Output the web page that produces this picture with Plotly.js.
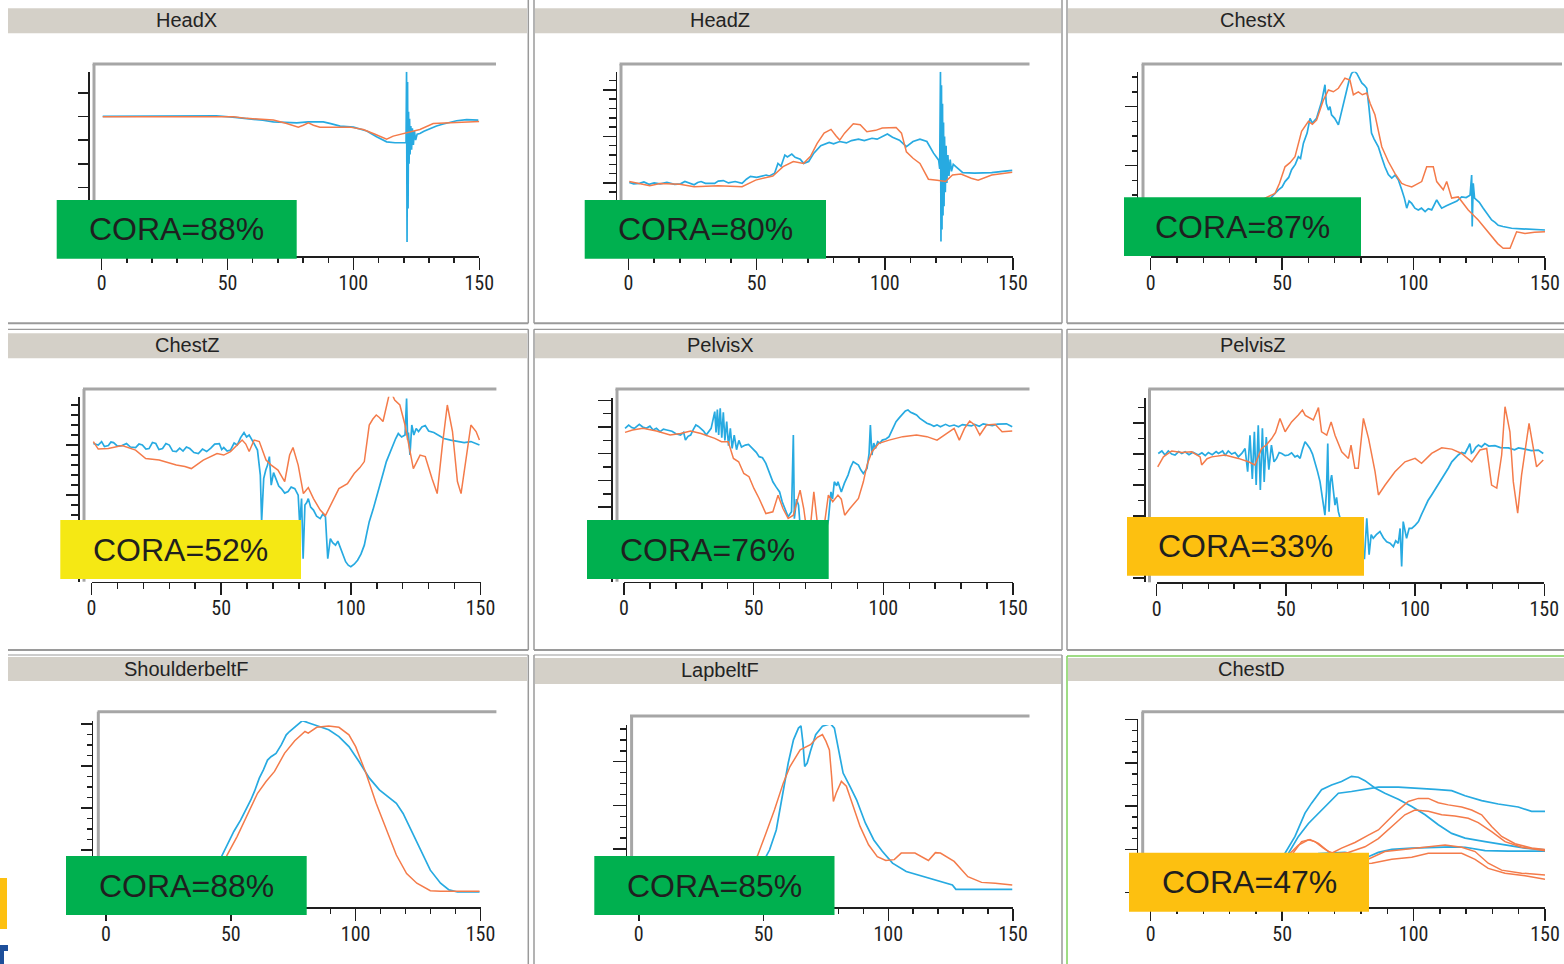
<!DOCTYPE html>
<html>
<head>
<meta charset="utf-8">
<script src="https://cdn.plot.ly/plotly-3.0.1.min.js"></script>
<style>html,body{margin:0;padding:0;background:#fff;}#chart{width:1564px;height:964px;}</style>
</head>
<body>
<div id="chart"></div>
<script>
// ---------------- DATA (time in ms, values in panel units) ----------------
const panelTitles = ['HeadX','HeadZ','ChestX','ChestZ','PelvisX','PelvisZ','ShoulderbeltF','LapbeltF','ChestD'];
const coraScores = [88, 80, 87, 52, 76, 33, 88, 85, 47];
const xTickLabels = ['0','50','100','150'];

const headX_test = [[0.4,0],[20,0],[41.7,0],[42.5,0.3],[44,0],[45.5,0.3],[53,-0.4],[56,-0.7],[61.6,-1.3],[64,-1.6],[68.2,-2.3],[72,-2.5],[77.5,-2.7],[82,-2.3],[88,-2.3],[91,-3],[94.7,-4.1],[100,-4.5],[105.3,-6.1],[109.2,-8.6],[113.2,-10.7],[116.5,-11.1],[120.9,-11.1],[121.1,18.9],[121.3,-53],[121.5,14.6],[121.7,-38.9],[121.9,2],[122.1,-20],[122.3,-1],[122.5,-16],[122.8,-4],[123.1,-14],[123.4,-5],[123.8,-12],[124.2,-6],[124.7,-10],[125.3,-7.5],[126.4,-7.2],[128,-6.2],[130.4,-5.1],[133,-4],[135.7,-3.2],[141,-1.8],[145,-1.3],[149.6,-1.5]];
const headX_model = [[0.4,-0.1],[52.3,-0.1],[57.6,-0.8],[68.2,-1.5],[73.5,-3],[78.1,-4.5],[80.1,-3.7],[82.1,-2.7],[84.1,-3.7],[86.7,-4.5],[98.6,-4.5],[103.9,-5.5],[108.6,-7.5],[111.2,-8.6],[113.2,-9.6],[115.8,-8.3],[121.1,-6.9],[126.4,-5.5],[131.7,-3],[139.7,-2.7],[150,-2.1]];

const headZ_test = [[0.3,0.1],[2,-0.2],[4.3,-0.1],[6,0.2],[8,-0.3],[10,0],[12.3,-0.2],[15,0.1],[18,-0.3],[20.3,-0.2],[22,0.3],[25.6,-0.4],[27,0.1],[28.3,0.3],[30,-0.1],[33.6,-0.1],[35,0.4],[37,0.5],[39,0],[41.6,0.3],[44.3,-0.1],[46,0.8],[47.6,1.4],[50,1.2],[53.7,1.7],[55,1.5],[57,2.1],[58.3,4.2],[59.5,3.6],[61,6],[62,5.6],[63.7,6.2],[65,5.5],[67,5.1],[68.3,4.2],[70.3,4.6],[72.3,6.4],[75,8],[78.3,8.7],[80,8.4],[82.4,8.9],[85,8.6],[87,9.1],[89.7,9.4],[92,9.1],[95,9.6],[97,9.4],[99,10],[101,10.5],[103,9.8],[105.7,9.2],[108.4,7.8],[111,8.9],[113.7,9.4],[116.4,8.9],[119,6.4],[121,4.9],[121.4,3],[121.7,23.9],[121.9,-12.6],[122.1,21],[122.3,-10],[122.5,17],[122.7,-7],[122.9,13],[123.1,-5],[123.3,10],[123.6,-2],[123.9,8],[124.2,0],[124.6,6],[125,1.5],[125.5,5],[126,2.5],[126.7,4],[127.7,3.5],[130.4,2.2],[135,2.1],[141.7,2.2],[146,2.5],[149.7,2.7]];
const headZ_model = [[0.3,0.3],[8.3,-0.6],[12.3,-0.1],[20,-0.3],[25.6,-0.8],[35,-0.6],[44.3,-0.8],[49.6,0.6],[56.3,1.5],[60.3,3.5],[64.3,4.6],[68.3,4.2],[71,5.7],[73.6,8.5],[76.3,10.7],[79,11.5],[81,10.1],[82.4,9.2],[84.3,10.7],[87.7,12.7],[90.4,12.5],[93,11],[96.4,11.3],[99,11.8],[104.4,11.9],[106.5,10.7],[108.4,6.7],[111,5.3],[113.7,4.2],[117,0.8],[120.4,0.6],[123.7,0.3],[126.4,1.7],[129.7,1.9],[133.7,1],[136.4,0.6],[141.7,1.7],[149.7,2.3]];

const chestX_test = [[0,-7],[20,-7],[40,-7],[44,-6.5],[46,-5.3],[48.6,-4.1],[50,-3.6],[51.1,-2.7],[52.5,-2],[53.6,-0.7],[55,0.2],[56.2,1.5],[57,1.2],[58.1,3.8],[59.5,5.5],[60.6,8],[61.5,7.2],[63.1,8],[64,9.5],[65,10.8],[66.3,13.7],[66.8,10.5],[67.6,9.4],[68.2,10],[68.8,8.6],[70,8],[71.4,6.9],[72.7,9.4],[73.5,11],[74.6,13.1],[75.5,14.5],[76.4,15.6],[77.4,16],[78.4,15.6],[79.4,14.8],[80.3,14],[81.3,13.6],[82.2,13.1],[83,10],[84,5.5],[85,4.5],[86.6,3.2],[87.8,1.5],[89.1,-0.2],[90.4,-1.5],[91.7,-2.1],[93,-1.6],[94.2,-2.4],[95.5,-4.1],[96.5,-5.5],[97.4,-7.2],[98.3,-6],[99.3,-6.4],[100.5,-7.2],[101.8,-7.5],[103,-7.2],[104.4,-7.8],[105.6,-7.3],[106.9,-7.5],[108.8,-5.8],[109.7,-6.5],[110.7,-7.2],[112.5,-6.8],[114.5,-6.4],[116.5,-6],[118.3,-5.3],[120,-5.4],[121.5,-5],[121.8,-1.9],[122.1,-1.6],[122.3,-10.3],[122.7,-3],[123.2,-5.5],[124,-5.8],[125,-6.2],[126.5,-7.2],[128,-8.2],[129.7,-9.2],[131,-9.6],[132.2,-10.1],[134,-10.3],[137.3,-10.6],[141,-10.7],[144.9,-10.8],[150,-10.9]];
const chestX_model = [[0,-8],[20,-8],[40,-7.5],[43.5,-5.5],[47.3,-4.7],[49,-3],[51.1,-0.2],[53,0.5],[54.9,1.5],[56,3.5],[57.4,5.8],[60,7.5],[61.5,7],[63.1,7.7],[64.5,9.5],[65.7,11.1],[67.6,12.8],[69.5,12.5],[71.4,13.1],[72.6,14],[73.9,14.8],[75.8,14.5],[77.1,12],[79,12.5],[80.5,12],[82.2,12.3],[83.5,10.5],[85.3,8.6],[86.5,6],[87.9,3.2],[90.4,0.7],[92.9,-1.3],[95.5,-3],[97,-3.3],[99.3,-3.6],[101,-3.2],[103.1,-2.7],[105,-0.2],[107.5,-0.2],[108.8,-2.7],[111.3,-4.1],[112.6,-2.7],[114.5,-5.5],[117,-5.3],[120.8,-7.5],[124.6,-9.2],[127,-10.5],[129.7,-12],[132,-13.2],[134.1,-14],[136.7,-14],[139.2,-11.2],[142.4,-11.5],[146,-11.3],[150,-11.2]];

const chestZ_test = [[0.7,0.3],[2.6,0],[3.9,0.7],[5,-0.3],[6.5,-0.1],[7.5,0.6],[8.5,0.5],[10,-0.2],[11.8,-0.1],[13.5,0.3],[15,-0.4],[17,-0.5],[18.3,0.2],[19.6,0],[21,-0.8],[22.2,-0.7],[23.5,0.5],[24.8,0.3],[26,-0.9],[27.4,-0.7],[28.7,0.3],[30,0],[31.3,-1.2],[32.7,-1.3],[34,-0.6],[35.3,-1.2],[36.6,-0.4],[37.9,-0.7],[39.5,-1.5],[41.2,-1.7],[42.8,-0.8],[44.4,-1.3],[46,-0.6],[47.5,0.2],[49.3,0.3],[50.2,-0.9],[51,-0.5],[52.3,-1.2],[53.6,-1],[55,0.4],[56.2,0],[57.5,1.5],[58.8,2.5],[59.8,1.6],[60.8,2],[61.8,1.2],[62.7,0.3],[64,-1],[65.1,-6],[65.6,-15.3],[66.4,-6.7],[67.2,-5],[67.9,-4],[68.6,-2.3],[69.3,-8],[70.2,-5.5],[71.2,-6.7],[72.2,-8.2],[73.2,-8.7],[74.5,-9.6],[75.8,-9.3],[77,-8.4],[78.4,-8.7],[79.7,-10],[80.3,-16],[81,-10.7],[81.6,-22.7],[82.3,-12],[83,-11.5],[83.6,-10.7],[84.5,-12.4],[85.6,-13],[86.8,-14.2],[88.2,-14.7],[89.2,-13.8],[90.2,-14.3],[91.1,-22.7],[92.1,-18.7],[93,-19.5],[94.1,-20],[95,-19.2],[96,-20.7],[97,-21.8],[98,-23.3],[99,-24],[100,-24.3],[101.3,-23.8],[102.6,-23],[103.9,-21.8],[105.2,-20],[106.2,-17.5],[107.1,-15.3],[108.5,-13],[109.8,-10.7],[110.8,-9],[111.7,-7.3],[112.7,-5.2],[113.7,-3.3],[115,-1.5],[116.3,0],[117.3,1.3],[118.3,2.3],[119.6,1.6],[120.9,2],[121.5,9.3],[121.9,1],[122.2,2.5],[122.8,-2],[123.5,4],[124.3,2],[125.2,3.3],[126.1,2.7],[127.4,3.6],[128.7,3.9],[130,2.8],[132,2.5],[134,1.8],[135.9,1.3],[138.5,1],[141.1,0.8],[143.7,0.5],[146.3,0.7],[148,0.3],[149.6,0]];
const chestZ_model = [[0.7,0.7],[2.6,-0.8],[6.5,-0.7],[11.8,-0.1],[17,-1],[20.9,-2.7],[26.1,-3],[32.7,-4],[36,-4.3],[38.5,-4.7],[43.1,-3],[48.4,-1.7],[51,-2],[53.6,-1.3],[58.1,1],[59.5,0.2],[60.8,-1.3],[62.7,1],[64.7,0.7],[67.3,-3],[69.3,-4],[71.9,-5],[74.5,-7.3],[76.4,-2],[77.7,-0.5],[79.7,-4],[81.7,-9.7],[83.6,-8.5],[85.6,-10.7],[88.2,-13],[90.2,-14.1],[92.8,-11.3],[95.4,-8.7],[98.7,-7.7],[101.3,-5.7],[103.5,-4.5],[105.2,-3.3],[107.1,4],[108.5,5.2],[109.8,6],[111,5.5],[112.4,4.7],[114.3,9.3],[115.2,11],[116.9,9],[118.9,8],[120.9,4],[122.8,-1.3],[124.1,-4.7],[126.7,-2],[128.7,-2.3],[131.3,-6.7],[133.3,-9.7],[135.3,0],[137.2,8],[139.2,2.7],[141.1,-7.3],[142.5,-9.7],[144.4,-2.7],[146.3,4],[148.3,2.7],[149.6,1]];

const pelvisX_test = [[0.4,-0.5],[1.8,0.75],[3,-0.2],[4,-0.5],[5.9,1],[7.2,0],[8.6,-0.5],[10,0.3],[11.2,-1.1],[12.5,-0.5],[13.9,-1.75],[15.2,-0.8],[16.5,-1.1],[18.5,-1.6],[20,-2.5],[21.8,-3],[23,-2],[23.7,-4.9],[24.7,-3.5],[25.7,-3],[26.7,-1],[27.7,0.75],[28.7,0.2],[29.7,-0.5],[30.7,-1.5],[31.7,-3],[32.7,-1.5],[33.6,-0.5],[35,5.75],[35.5,-2],[36,6.5],[36.5,-3],[37.1,7],[37.7,-4],[38.3,5.5],[38.9,-5],[39.6,2],[40.3,-7],[41,-0.5],[41.7,-8],[42.5,-3],[43.4,-8.5],[44.3,-5],[45.3,-7.5],[46.8,-6.75],[48,-6.5],[49.5,-8],[51,-9.5],[52.1,-11.1],[53.4,-11.5],[54.7,-13.6],[56,-17],[57.4,-20.5],[58.7,-22.5],[60,-24.3],[61,-28],[62,-30.5],[63.3,-33.6],[64.6,-31.75],[65,-20],[65.3,-3],[65.7,-34.3],[66.5,-27],[67.3,-29.3],[67.9,-36.75],[69.3,-41.75],[71,-43],[73.2,-44],[75,-43],[77.2,-41.75],[78.8,-34.9],[79.8,-24.3],[80.4,-27],[81.1,-20.5],[82,-22],[82.5,-20.5],[83.8,-24.3],[85,-21],[86.4,-18],[87.4,-15],[88.4,-13],[89.4,-13.5],[90.4,-14.25],[91.3,-16],[92.3,-17.4],[93.7,-15.5],[94.5,-10],[95,0.75],[95.6,-10.5],[96.3,-6],[96.97,-8],[97.8,-5.5],[98.7,-6],[99.6,-4.9],[101,-4.5],[102.2,-3.6],[103.5,-1],[104.9,2],[106.2,3.5],[107.5,5.1],[108.5,6],[109.5,6.4],[110.5,5.5],[111.5,5.1],[112.8,4.5],[114.1,3.25],[115.4,2.3],[116.8,1.4],[118,1],[119.5,0.3],[120.7,0.8],[122,0.1],[124,1],[125.5,0.3],[127.3,0.75],[129,0.1],[130.5,0.9],[132.6,0.75],[134,0.4],[135.2,1],[137,0.3],[138.5,1.2],[140.5,0.75],[142,0.5],[144,1.1],[145.8,1.25],[147.5,1.2],[149.7,0.1]];
const pelvisX_model = [[0.4,-2],[3.3,-1.1],[7.3,-0.5],[12.5,-1.5],[17.8,-3],[21.8,-2.4],[25.7,-1.5],[29.7,-2.4],[35,-4.25],[37.6,-5.5],[40.2,-5.5],[42.2,-11.75],[44.2,-13],[46.2,-17.4],[48.2,-18.6],[50.1,-23],[52.1,-26.75],[54.7,-32.4],[57.4,-31.75],[59.4,-25.5],[61.3,-30.5],[63.3,-34.25],[65.3,-33],[67.9,-23.6],[69.3,-30.5],[71.2,-44],[73.2,-24.25],[74.5,-35.5],[76.5,-42],[78.8,-25.5],[80.5,-28],[82.5,-25.5],[83.8,-27],[85.1,-33],[87.1,-30.5],[90.4,-26.75],[92.3,-20.5],[93.7,-14.25],[95.6,-9.25],[98.3,-6.1],[102.2,-4.9],[107.5,-3.6],[112.8,-3],[116.8,-3.6],[120.7,-4.9],[124.7,-2.4],[127.3,-0.5],[129.3,-4.9],[131.3,-0.5],[133.3,2.25],[135.2,0.75],[137.2,-3],[139.8,0.75],[143.1,1],[145.8,-1.75],[149.7,-1.5]];

const pelvisZ_test = [[0.6,0.2],[2,1],[3.2,-0.3],[4.5,1],[5.8,0],[7.1,-0.3],[8.5,0.8],[9.7,0.2],[11,0.75],[12.5,-0.2],[14,0.6],[16.1,-0.3],[17.5,0.4],[18.8,-0.5],[20,0.5],[21.5,-0.2],[23,0.8],[23.9,0.2],[25.5,1],[26.5,-0.4],[27.7,1],[29,0],[30.3,0.5],[31.6,-0.9],[33,0.3],[34.2,1.8],[35.2,-5.7],[36.1,6.1],[37,-8],[37.8,7.2],[38.5,-10],[39.3,9.3],[40.1,-11.6],[40.9,8.3],[41.6,-9],[42.4,5.5],[43.4,-5],[44.4,2.9],[45.4,-2.5],[46.4,-1.4],[47.4,0.5],[48.4,0.2],[49.7,-0.5],[51,-0.3],[52.2,0.4],[53.5,-0.9],[54.5,-0.5],[55.5,-1.4],[56.4,1.5],[57.4,4],[58.3,3],[59.3,1.8],[60.3,0],[61.3,-2.5],[62.2,-5.5],[63.2,-8.9],[64.1,-14.3],[65.1,-19.7],[65.7,-12],[66.2,3.4],[66.7,-18.6],[67.2,-9],[67.7,-6.8],[68.3,-12],[69,-16.5],[69.6,-14],[70.3,-18.6],[71,-20.75],[72.5,-28],[74.2,-31.5],[76,-33],[78,-33.7],[80.4,-33.7],[81.3,-20.75],[82.2,-32.5],[83,-26],[83.8,-27.2],[85,-26],[86.4,-25],[87.7,-27],[89,-28.3],[90.3,-28.8],[91.6,-29.9],[92.5,-28],[93.5,-28.8],[94.2,-24],[94.8,-36.3],[95.4,-21.8],[96,-25],[96.7,-27.2],[97.7,-24],[98.7,-24],[100,-23],[101.3,-21.8],[102.5,-19.5],[103.8,-17],[105,-15],[106.4,-13.2],[107.7,-11.5],[109,-9.5],[110.3,-8],[111.6,-6.2],[112.9,-4.5],[114.2,-2.5],[115.5,-1.2],[116.7,-0.3],[118,0.5],[119.3,0.2],[120.3,1.8],[121.2,3.4],[121.8,0.3],[122.5,0.75],[123.5,2.2],[124.5,2.9],[125.7,2.3],[127,3.4],[128.5,2.6],[130.9,2.7],[133,2.1],[136.1,2],[138.5,1.4],[140,2],[142.5,1.6],[145,1.1],[147.7,1.3],[149.6,0.2]];
const pelvisZ_model = [[0.4,-4.1],[2.6,-0.9],[5.8,1],[9.7,0.5],[13.5,0.75],[16.8,-0.9],[17.4,-3.5],[19.5,-1.5],[21.3,-0.9],[26.4,-0.3],[31.6,-1.4],[35.5,-2.5],[38,-3.5],[40.6,1.8],[42.5,3],[44.5,5],[46,7],[47.7,11.5],[49.7,7.2],[51,9],[52.2,10.4],[54.8,12.6],[56.4,14.2],[57.5,12.5],[58.7,12],[60.6,11],[62.6,15],[63.8,7.2],[65.8,6.1],[67.5,10.4],[69,6.1],[71.6,0.75],[74.2,-1.4],[75.2,2.9],[76.7,-4.6],[78,-4.6],[80,11.5],[82,5],[84.5,-5.7],[85.8,-13.2],[88.4,-10],[92.2,-5.7],[96.1,-2.5],[100,-1.4],[102.5,-3],[106.4,0.2],[110.3,2],[114.2,1.6],[118,0.2],[121.9,-2.5],[125.1,1.3],[127.7,1.8],[129.6,-10],[131.6,-11],[133.5,-0.3],[134.8,15.3],[136.7,7.2],[138,-8.9],[139.7,-19.1],[141.2,-6.8],[144.1,9.9],[145.7,1.8],[147,-4.1],[149.6,-1.9]];

const shoulder_test = [[0,0],[30,0],[37.6,0],[41.7,2.9],[46.4,8.6],[48.5,10.8],[51.2,14.4],[53.9,17.1],[56,19.5],[58,21.9],[59.5,24],[61.4,27.1],[63,29],[64.7,31.4],[66.1,32.2],[68.1,33],[70.2,35],[72.2,37.4],[73.5,38.2],[75,39],[77,40],[78.7,40.8],[81,40.3],[85.1,39.5],[89.2,38.6],[93.3,37],[97.3,34.6],[101.4,31],[105.5,27.1],[109.5,24.3],[113.6,22.3],[116.3,21.1],[119,18.7],[121.8,15.2],[125.8,10],[129.9,5.2],[134,2.1],[137.4,0.5],[140.8,0],[149.6,0]];
const shoulder_model = [[0,0.2],[30,0.2],[39,0.2],[44.4,2.9],[48.5,8.8],[52.5,13.2],[56.6,18.3],[60.7,23.5],[64.1,26.3],[67.5,28.7],[71.5,33],[75.6,36],[79.7,38.2],[81,37.8],[84.4,39.2],[89.2,39.5],[93.3,39.2],[97.3,37.4],[100,34.6],[104.1,28.3],[108.2,21.1],[112.3,14.8],[116.3,8.8],[120.4,4.4],[124.5,2.1],[129.9,0.3],[134,0.2],[149.6,0.2]];

const lapbelt_test = [[0,0],[38.7,0],[43,1],[46.9,3],[49.6,6.8],[52.4,9.8],[55.1,14.4],[57.9,22.8],[59.9,29.7],[62,35],[64,37.7],[65,38.2],[65.8,34.3],[66.5,28.9],[67.5,29.7],[68.8,32.4],[70.9,36.2],[73.6,38.1],[76.8,38.7],[78.4,37.7],[79.8,33.5],[81.9,27.4],[84.6,24.4],[87.3,21.3],[90.8,16],[94.2,12.1],[97.6,9.5],[101.7,6.8],[107.2,4.9],[114.1,3.7],[120.9,2.6],[125.7,1.8],[127.1,0.8],[149.7,0.8]];
const lapbelt_model = [[0,0],[36,0],[40,2.2],[44,5.5],[47.6,8.5],[51,13.7],[54.4,19],[57.9,25.1],[60.6,28.9],[64.7,32.7],[68.8,33.9],[71.6,35.6],[73.6,36.2],[75,34.7],[76.4,32.7],[77.3,26.6],[78,20.9],[79.1,22.8],[81.2,25.5],[83.2,24.4],[85.9,19.8],[88.7,15.2],[92.1,11],[95.6,8.3],[99,7.4],[102.4,7.6],[105.2,9.1],[110.7,9.1],[116.1,7.4],[118.9,9.2],[120.9,9.1],[126.4,7.2],[131.9,3.7],[137.4,2.4],[142.9,2.2],[149.7,1.8]];

const chestD_test1 = [[0,0],[43.5,0],[51.1,9.1],[54.9,13],[58.7,18.4],[61.2,20.7],[65,23.8],[68.8,24.9],[72.6,25.7],[76.4,26.9],[79,26.7],[81.5,25.9],[85.3,24.2],[89.1,23],[94.2,21.6],[99.3,19.9],[104.4,18],[109.4,15.7],[114.5,13.7],[119.6,12.6],[127.2,11.8],[134.8,11],[142.4,10.3],[150,9.9]];
const chestD_test2 = [[0,0],[43.5,0],[52.4,9.1],[56.2,13],[60,16],[63.8,18.4],[67.6,20.7],[71.4,23],[76.4,23.4],[81.5,23.9],[86.6,24.4],[94.2,24.4],[101.8,24.2],[108.2,23.9],[114.5,23.6],[119.6,22.4],[125.9,21.3],[132.2,20.5],[139.8,19.8],[144.9,18.8],[150,18.8]];
const chestD_test3 = [[0,0],[48.6,0],[56.2,6.8],[63.8,9],[73.9,9.3],[82.8,8.3],[86.6,9.3],[91.7,10],[99.3,10.3],[106.9,10.5],[114.5,10.6],[119.6,10.5],[127.2,9.7],[136,9.6],[150,9.6]];
const chestD_model1 = [[0,0],[43.5,0],[52.4,8.7],[56.2,11],[60,12.2],[62.5,11.8],[65.7,10.3],[68.8,9.1],[72.6,10.3],[77.7,11.6],[82.8,13.3],[86.6,14.5],[90.4,16.8],[94.2,19.1],[98,21.1],[101.8,21.8],[105.6,21.8],[109.4,20.8],[113.2,20.3],[118.3,19.8],[122.1,19.1],[125.9,18],[129.7,15.3],[133.5,13],[138.6,11.3],[144.9,10.3],[150,10]];
const chestD_model2 = [[0,0],[44.8,0],[53.6,8.7],[57.4,11.8],[60.6,12.3],[63.8,11.4],[67.6,9.5],[70.1,9],[75.2,9.3],[81.5,10.6],[86.6,12.5],[91.7,15.3],[96.7,18],[100.5,19.1],[105.6,18.8],[110.7,18],[115.7,17.7],[120.8,17.2],[124.6,16.2],[129.7,14.1],[134.8,11.8],[141.1,10.5],[150,9.7]];
const chestD_model3 = [[0,0],[48.6,0],[56.2,5.2],[63.8,6.8],[72.6,8.3],[81.5,7.4],[89.1,9.5],[96.7,10],[104.4,10.6],[112,11],[118.3,10.5],[123.4,9.5],[128.4,6.8],[133.5,5.2],[141.1,4.5],[150,4.1]];
const chestD_model4 = [[0,0],[49.8,0],[58.7,4.5],[66.3,6],[75.2,6.6],[84.1,6.8],[91.7,7.7],[99.3,8.2],[105.6,9.1],[113.2,9.1],[118.3,9.1],[123.4,7.7],[128.4,5.6],[134.8,4.5],[142.4,3.9],[150,3.1]];

const testSeries  = [[headX_test],[headZ_test],[chestX_test],[chestZ_test],[pelvisX_test],[pelvisZ_test],[shoulder_test],[lapbelt_test],[chestD_test1,chestD_test2,chestD_test3]];
const modelSeries = [[headX_model],[headZ_model],[chestX_model],[chestZ_model],[pelvisX_model],[pelvisZ_model],[shoulder_model],[lapbelt_model],[chestD_model1,chestD_model2,chestD_model3,chestD_model4]];

// ---------------- LAYOUT / STYLE (pixel geometry) ----------------
const W = 1564, H = 964;
const BLUE = '#27aae1', ORANGE = '#f47b4a';
const GREEN = '#00b04f', YELLOW = '#f5e814', AMBER = '#fdc010';
const FONT_T = 'Arial, "Liberation Sans", sans-serif';
const FONT_N = '"Liberation Sans Narrow", "Arial Narrow", "Roboto Condensed", "Liberation Sans", Arial, sans-serif';

const geom = [
 {xa0:101.7, xa1:479.3, xy:256,   yTop:71.7,  yx:88.3,   yr:[-58.9,18.9], mn:0,   ml:10,   nl:0,   fr:[92.7,496,64,94],      box:[56.7,200,296.7,258.7], bc:GREEN,  tt:[186.7,19.5],  bar:[8,8.3,527,33.3]},
 {xa0:628.5, xa1:1013,  xy:256,   yTop:71.7,  yx:615.5,  yr:[-15.7,23.9], mn:2,   ml:13,   nl:7,   fr:[619.6,1029.5,64,621], box:[584.7,200,826,258.7],  bc:GREEN,  tt:[719.9,19.5],  bar:[535,8.3,1061,33.3]},
 {xa0:1150.7,xa1:1545,  xy:256,   yTop:71.7,  yx:1136.7, yr:[-15.3,15.9], mn:2.5, ml:11.7, nl:5,   fr:[1141.7,1562,64,1143], box:[1124,197.3,1361,256],  bc:GREEN,  tt:[1252.5,19.5], bar:[1068,8.3,1564,33.3]},
 {xa0:91.5,  xa1:480.5, xy:581.7, yTop:396.7, yx:78,     yr:[-27.3,9.66], mn:2,   ml:12,   nl:7,   fr:[83,496.4,389,84],     box:[60.3,520,301,579],     bc:YELLOW, tt:[187.2,344.5], bar:[8,333.3,527,358.3]},
 {xa0:624,   xa1:1013,  xy:581.7, yTop:398.3, yx:611,    yr:[-57.9,10.75],mn:5,   ml:12.7, nl:8,   fr:[615.5,1029.5,389,617],box:[587,520,828.7,579],    bc:GREEN,  tt:[720.7,344.5], bar:[535,333.3,1061,358.3]},
 {xa0:1156.7,xa1:1544.3,xy:582.3, yTop:397.7, yx:1144,   yr:[-41.4,18.2], mn:5,   ml:10.7, nl:6.3, fr:[1148.3,1564,389,1149.5],box:[1127,517,1364,575.7], bc:AMBER,  tt:[1252.5,344.5],bar:[1068,333.3,1564,358.3]},
 {xa0:106,   xa1:480.5, xy:907.3, yTop:721,   yx:91.5,   yr:[-3.64,40.7], mn:2.5, ml:10.8, nl:5,   fr:[97.6,496.4,711.7,98.3],box:[66,856,306.7,915],     bc:GREEN,  tt:[186.4,668.5], bar:[8,657,527,681]},
 {xa0:638.8, xa1:1013,  xy:907.3, yTop:725,   yx:625.8,  yr:[-3.3,38.4],  mn:2.5, ml:12.7, nl:6,   fr:[630,1029.5,716,631.6],box:[594.3,856,834.5,915],  bc:GREEN,  tt:[720,670],   bar:[535,658,1061,684]},
 {xa0:1150.7,xa1:1545,  xy:907.3, yTop:719.3, yx:1136.7, yr:[-3.4,40.1],  mn:2.5, ml:11.7, nl:5,   fr:[1141.7,1564,711.7,1142.7],box:[1129,852.7,1369,911.7],bc:AMBER, tt:[1251.7,668.5],bar:[1068,658,1564,681]}
];

const px = x => x / W;
const py = y => 1 - y / H;

const traces = [];
const shapes = [];
const annotations = [];
const layout = {
  width: W, height: H,
  margin: {l:0, r:0, t:0, b:0, pad:0},
  paper_bgcolor: '#ffffff', plot_bgcolor: 'rgba(0,0,0,0)',
  showlegend: false, hovermode: false
};

function line(x0,y0,x1,y1,color,width,layer){
  shapes.push({type:'line', xref:'paper', yref:'paper', x0:px(x0), y0:py(y0), x1:px(x1), y1:py(y1),
    line:{color:color, width:width}, layer: layer || 'below'});
}
function rect(x0,y0,x1,y1,fill,layer){
  shapes.push({type:'rect', xref:'paper', yref:'paper', x0:px(x0), y0:py(y0), x1:px(x1), y1:py(y1),
    fillcolor:fill, line:{width:0}, layer: layer || 'below'});
}

// panel borders
const BORDER = '#9a9a9a';
line(8,323.3,528.3,323.3,BORDER,2); line(534,323.3,1062,323.3,BORDER,2); line(1067,323.3,1564,323.3,BORDER,2);
line(8,329.3,528.3,329.3,BORDER,1.2); line(534,329.3,1062,329.3,BORDER,1.2); line(1067,329.3,1564,329.3,BORDER,1.2);
line(8,650,528.3,650,BORDER,2); line(534,650,1062,650,BORDER,2); line(1067,650,1564,650,BORDER,2);
line(8,655,528.3,655,BORDER,1.2); line(534,655,1062,655,BORDER,1.2);
[[0,323.3],[329.3,650],[655,964]].forEach(([a,b])=>{
  line(528.3,a,528.3,b,BORDER,1.5);
  line(534,a,534,b,BORDER,1.5);
  line(1062,a,1062,b,BORDER,1.5);
});
line(1067,0,1067,323.3,BORDER,1.5); line(1067,329.3,1067,650,BORDER,1.5);
// selected panel (ChestD) green border
line(1067,656,1564,656,'#7fd15c',1.5); line(1067,656,1067,964,'#7fd15c',1.5);

geom.forEach((g, i) => {
  const n = i + 1;
  const xk = n === 1 ? 'xaxis' : 'xaxis' + n;
  const yk = n === 1 ? 'yaxis' : 'yaxis' + n;
  const xr = n === 1 ? 'x' : 'x' + n;
  const yrf = n === 1 ? 'y' : 'y' + n;

  layout[xk] = {
    domain:[px(g.xa0), px(g.xa1)], range:[0,150], anchor:'free', position: py(g.xy),
    showline:true, linecolor:'#1e1e1e', linewidth:1.5, mirror:false,
    ticks:'outside', ticklen:12, tickwidth:1.5, tickcolor:'#1e1e1e',
    tickmode:'array', tickvals:[0,50,100,150], ticktext:xTickLabels,
    ticklabelstandoff:-4,
    tickfont:{family:FONT_N, size:20, color:'#1e1e1e'},
    minor:{tickmode:'linear', tick0:0, dtick:10, ticks:'outside', ticklen:5.5, tickwidth:1.5, tickcolor:'#1e1e1e', showgrid:false},
    showgrid:false, zeroline:false, fixedrange:true
  };
  const yax = {
    domain:[py(g.xy), py(g.yTop)], range:g.yr, anchor:'free', position: px(g.yx), side:'left',
    showline:true, linecolor:'#1e1e1e', linewidth:1.5,
    ticks:'outside', ticklen:g.ml, tickwidth:1.5, tickcolor:'#1e1e1e',
    tick0:0, dtick:10, showticklabels:false,
    showgrid:false, zeroline:false, fixedrange:true
  };
  if (g.mn) yax.minor = {tick0:0, dtick:g.mn, ticks:'outside', ticklen:g.nl, tickwidth:1.5, tickcolor:'#1e1e1e', showgrid:false};
  layout[yk] = yax;

  // title bar
  rect(g.bar[0], g.bar[1], g.bar[2], g.bar[3], '#d4d0c8');
  annotations.push({xref:'paper', yref:'paper', x:px(g.tt[0]), y:py(g.tt[1]), text:panelTitles[i],
    showarrow:false, xanchor:'center', yanchor:'middle', font:{family:FONT_T, size:20, color:'#232323'}});

  // grey frame (top + left)
  line(g.fr[0], g.fr[2], g.fr[1], g.fr[2], '#a6a6a6', 3);
  line(g.fr[3], g.fr[2], g.fr[3], g.xy, '#a6a6a6', 3);

  // data
  testSeries[i].forEach(s => traces.push({type:'scatter', mode:'lines', xaxis:xr, yaxis:yrf,
    x:s.map(p=>p[0]), y:s.map(p=>p[1]), line:{color:BLUE, width:1.7}, hoverinfo:'skip'}));
  modelSeries[i].forEach(s => traces.push({type:'scatter', mode:'lines', xaxis:xr, yaxis:yrf,
    x:s.map(p=>p[0]), y:s.map(p=>p[1]), line:{color:ORANGE, width:1.5}, hoverinfo:'skip'}));

  // CORA box
  rect(g.box[0], g.box[1], g.box[2], g.box[3], g.bc, 'above');
  annotations.push({xref:'paper', yref:'paper', x:px((g.box[0]+g.box[2])/2), y:py((g.box[1]+g.box[3])/2),
    text:'CORA=' + coraScores[i] + '%', showarrow:false, xanchor:'center', yanchor:'middle',
    font:{family:FONT_T, size:32, color:'#1f1f1f'}});
});

// clipped fragments at the left edge
rect(0,878,7,929,AMBER,'above');
rect(0,945,8,951,'#1d4f9a','above');
rect(0,945,4,964,'#1d4f9a','above');

layout.shapes = shapes;
layout.annotations = annotations;

Plotly.newPlot('chart', traces, layout, {staticPlot:true, displayModeBar:false});
</script>
</body>
</html>
